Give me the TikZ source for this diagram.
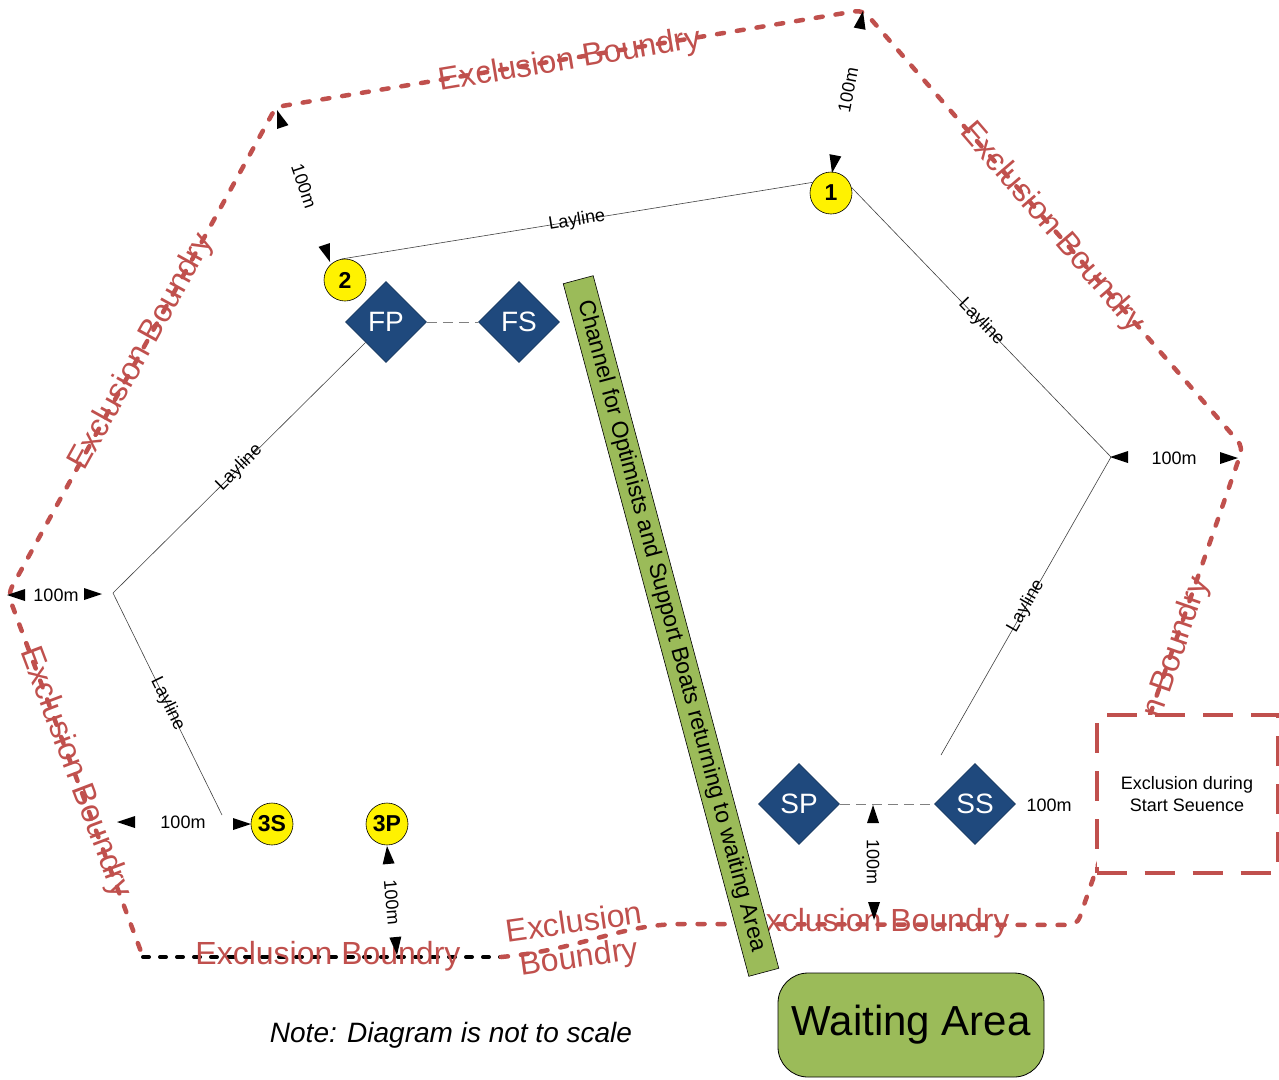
\documentclass[tikz,border=0pt]{standalone}
\usepackage{fontspec}
\setmainfont{Liberation Sans}
\usetikzlibrary{shapes.geometric}
\definecolor{bred}{HTML}{C0504D}
\definecolor{bgreen}{HTML}{9BBB59}
\definecolor{bblue}{HTML}{1F497D}
\definecolor{bline}{HTML}{17375E}
\begin{document}
\begin{tikzpicture}[x=1pt,y=-1pt,
  bound/.style={draw=bred, line width=4.5pt, line cap=round, dash pattern=on 7pt off 13pt},
  blackbound/.style={draw=black, line width=4pt, line cap=round, dash pattern=on 6pt off 11pt},
  btext/.style={text=bred, font=\fontsize{32}{36}\selectfont, inner sep=0pt},
  markcirc/.style={circle, draw=black, fill=yellow, line width=0.6pt, minimum size=42pt, inner sep=0pt, font=\fontsize{23}{26}\selectfont\bfseries},
  buoy/.style={diamond, aspect=1, fill=bblue, draw=bline, line width=0.6pt, minimum width=81pt, minimum height=81pt, inner sep=0pt, text=white, font=\fontsize{28}{30}\selectfont},
  layline/.style={draw=black!75, line width=0.6pt},
  laylbl/.style={font=\fontsize{18}{20}\selectfont, sloped, inner sep=0pt},
  dimtxt/.style={font=\fontsize{18}{20}\selectfont, inner sep=0pt},
  pairline/.style={draw=gray, line width=1pt, dash pattern=on 10pt off 6pt},
  arrowtri/.pic={\fill[black] (0,0) -- (-18,6) -- (-18,-6) -- cycle;}
]
\useasboundingbox (0,0) rectangle (1279,1079);

% boundary
\coordinate (bl) at (143,957);
\coordinate (bm) at (501,957);
\coordinate (bc) at (690,924);
\coordinate (br) at (1077,925);
\coordinate (rvx) at (1243,447);
\coordinate (tv) at (863,10);
\coordinate (tl) at (276,107);
\coordinate (lvx) at (8,594);
\draw[blackbound] (bl) -- (bm);
\draw[bound, rounded corners=8pt] (bm) .. controls (580,950) and (620,924) .. (bc) -- (br) -- (rvx) -- (tv) -- (tl) -- (lvx) -- (bl);

% boundary labels
\node[btext, rotate=9.4] (t1) at (570,61) {Exclusion Boundry};
\node[btext, rotate=61] (t2) at (142,352) {Exclusion Boundry};
\node[btext, rotate=-69.3] (t3) at (75,773) {Exclusion Boundry};
\node[btext, rotate=-49.3] (t4) at (1052,228) {Exclusion Boundry};
\node[btext, rotate=70.8] (t5) at (1157,704) {Exclusion Boundry};
\node[btext] (t6) at (328,956) {Exclusion Boundry};
\node[btext] (t7) at (877,923) {Exclusion Boundry};
\node[btext, rotate=8, align=center, font=\fontsize{32}{35}\selectfont] (t8) at (577,942) {Exclusion\\Boundry};

% marks and buoys
\node[markcirc] (m1) at (831,193) {1};
\node[markcirc] (m2) at (345,280) {2};
\node[markcirc] (m3s) at (272,824) {3S};
\node[markcirc] (m3p) at (387,824) {3P};
\node[buoy] (fp) at (386,322) {FP};
\node[buoy] (fs) at (519,322) {FS};
\node[buoy] (sp) at (799,804) {SP};
\node[buoy] (ss) at (975,804) {SS};
\draw[pairline] (fp.east) -- (fs.west);
\draw[pairline] (sp.east) -- (ss.west);

% laylines
\coordinate (rv) at (1111,457);
\coordinate (lv) at (113,593);
\coordinate (le) at (222,815);
\coordinate (re) at (941,755);
\draw[layline] (m2.100) -- node[laylbl] (l1) {Layline} (m1.150);
\draw[layline] (m1.15) -- node[laylbl] (l2) {Layline} (rv);
\draw[layline] (rv) -- node[laylbl] (l3) {Layline} (re);
\draw[layline] (fp.south west) -- node[laylbl] (l4) {Layline} (lv);
\draw[layline] (lv) -- node[laylbl] (l5) {Layline} (le);

% channel
\node[draw=black, line width=0.6pt, fill=bgreen, minimum width=717pt, minimum height=31pt, inner sep=0pt, rotate=-75, font=\fontsize{23}{26}\selectfont] (ch) at (671,626) {Channel for Optimists and Support Boats returning to waiting Area};

% waiting area
\node[draw=black, line width=0.8pt, fill=bgreen, rounded corners=30pt, minimum width=266pt, minimum height=104pt, font=\fontsize{42}{46}\selectfont] (wa) at (911,1025) {Waiting Area};

% exclusion box
\node[draw=bred, line width=4pt, dash pattern=on 30pt off 18pt, fill=white, minimum width=181pt, minimum height=158pt, align=center, font=\fontsize{18}{22}\selectfont] (exbox) at (1187,794) {Exclusion during\\Start Seuence};

% dimension arrows
\pic[rotate=108.7] at (277,110) {arrowtri};
\pic[rotate=-71.3] at (330,262) {arrowtri};
\node[dimtxt, rotate=-71.3] (d1) at (304,186) {100m};
\pic[rotate=79.2] at (863,11) {arrowtri};
\pic[rotate=-100.8] at (832,173) {arrowtri};
\node[dimtxt, rotate=79.2] (d2) at (848,90) {100m};
\pic[rotate=180] at (1110,457) {arrowtri};
\pic[rotate=0] at (1238,458) {arrowtri};
\node[dimtxt] (d3) at (1174,458) {100m};
\pic[rotate=180] at (7,595) {arrowtri};
\pic[rotate=0] at (102,594) {arrowtri};
\node[dimtxt] (d4) at (56,595) {100m};
\pic[rotate=180] at (117,822) {arrowtri};
\pic[rotate=0] at (251,824) {arrowtri};
\node[dimtxt] (d5) at (183,822) {100m};
\pic[rotate=95.2] at (387,846) {arrowtri};
\pic[rotate=-84.8] at (397,955) {arrowtri};
\node[dimtxt, rotate=-84.8] (d6) at (392,902) {100m};
\pic[rotate=90] at (873,805) {arrowtri};
\pic[rotate=-90] at (874,920) {arrowtri};
\node[dimtxt, rotate=-90] (d7) at (873,862) {100m};
\node[dimtxt] (d8) at (1049,805) {100m};

% note
\node[font=\fontsize{28}{30}\selectfont\itshape] (note) at (451,1035) {Note: Diagram is not to scale};
\end{tikzpicture}
\end{document}
